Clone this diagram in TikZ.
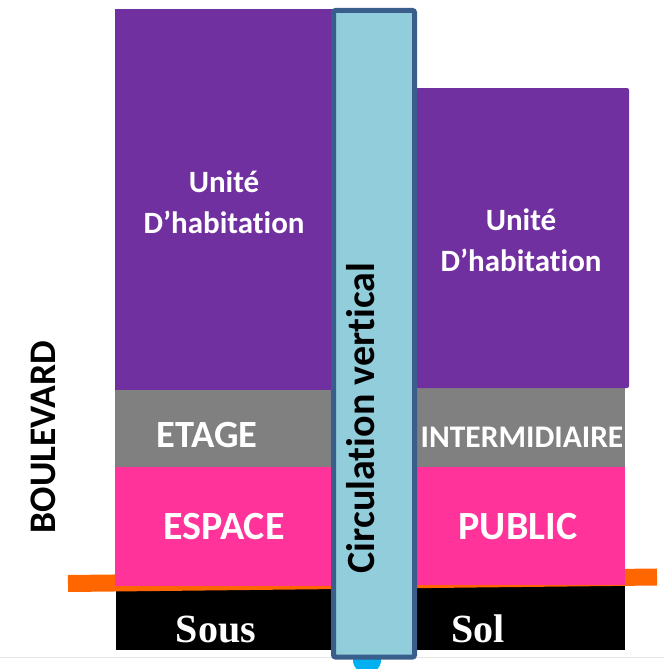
\documentclass[tikz,border=0pt]{standalone}
\usepackage{fontspec}
\setmainfont{Carlito}[Ligatures={NoCommon}]
\newfontfamily\serifbold{Liberation Serif}[BoldFont={Liberation Serif Bold}]
\usetikzlibrary{positioning}

\definecolor{violetbloc}{HTML}{7030A0}
\definecolor{grisbloc}{HTML}{808080}
\definecolor{rosebloc}{HTML}{FF3399}
\definecolor{orangesol}{HTML}{FF6600}
\definecolor{bleucol}{HTML}{92CDDC}
\definecolor{bordcol}{HTML}{3A5E8C}
\definecolor{cyanpt}{HTML}{00B0F0}

\tikzset{
  bloc/.style={fill=#1, draw=none},
  etiquette/.style={text=white, font=\fontsize{31}{41}\selectfont\bfseries, align=center, inner sep=0pt},
  grand/.style={text=white, font=\fontsize{40}{46}\selectfont\bfseries, inner sep=0pt},
  moyen/.style={text=white, font=\fontsize{31.5}{36}\selectfont\bfseries, inner sep=0pt},
  soussol/.style={text=white, font=\serifbold\fontsize{40}{48}\selectfont\bfseries, inner sep=0pt, anchor=base}
}

\begin{document}
\begin{tikzpicture}[x=1pt, y=-1pt]
  \useasboundingbox (0,0) rectangle (664,669);
  \clip (0,0) rectangle (664,669);

  % ligne de fond
  \draw[gray!20, line width=1] (0,657) -- (664,657);

  % sous-sol et niveau du sol
  \fill[bloc=black] (116,585) rectangle (625,650);
  \draw[orangesol, line width=17] (68,583.5) -- (657,577);

  % espace public
  \fill[bloc=rosebloc] (115,467) rectangle (333,586);
  \fill[bloc=rosebloc] (416,467) rectangle (625,585);

  % etage intermediaire
  \fill[bloc=grisbloc] (115,390) rectangle (333,467);
  \fill[bloc=grisbloc] (416,388) rectangle (625,467);

  % unites d'habitation
  \fill[bloc=violetbloc] (115,9) rectangle (333,390);
  \fill[bloc=violetbloc, rounded corners=2] (416,88) rectangle (629,388);

  % circulation verticale
  \fill[cyanpt] (367,660) circle (14);
  \draw[bordcol, fill=bleucol, line width=5, rounded corners=2] (333.5,10.5) rectangle (414.5,657);

  % textes
  \node[etiquette] (habG) at (224,202) {Unité\\D’habitation};
  \node[etiquette] (habD) at (521,240) {Unité\\D’habitation};
  \node[grand, font=\fontsize{38.5}{46}\selectfont\bfseries] (etage) at (207,435) {ETAGE};
  \node[moyen] (interm) at (522,437) {INTERMIDIAIRE};
  \node[grand] (espace) at (224,527) {ESPACE};
  \node[grand] (public) at (518,527) {PUBLIC};
  \node[soussol] (sous) at (216,642) {Sous};
  \node[soussol] (sol) at (478,642) {Sol};
  \node[rotate=90, font=\fontsize{40}{48}\selectfont\bfseries, inner sep=0pt] (circ) at (361,418) {Circulation vertical};
  \node[rotate=90, font=\fontsize{37.5}{44}\selectfont\bfseries, inner sep=0pt] (boul) at (43,437) {BOULEVARD};
\end{tikzpicture}
\end{document}
